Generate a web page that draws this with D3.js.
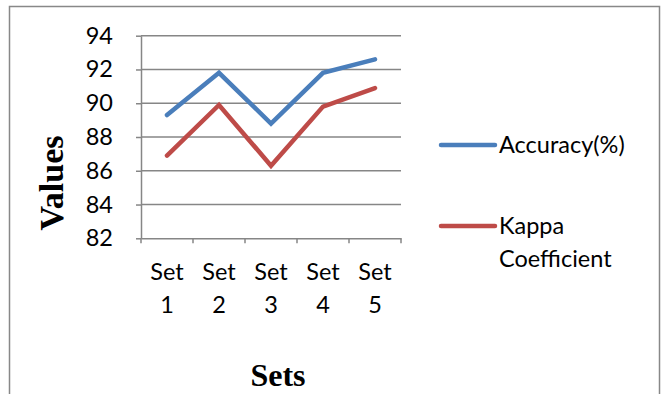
<!DOCTYPE html>
<html><head><meta charset="utf-8">
<script src="https://cdn.jsdelivr.net/npm/d3@7/dist/d3.min.js"></script>
<style>html,body{margin:0;padding:0;background:#fff;}</style>
</head><body>
<svg id="chart" width="671" height="394"></svg>
<script>
const categories = ["Set 1", "Set 2", "Set 3", "Set 4", "Set 5"];
const accuracy = [89.3, 91.8, 88.8, 91.8, 92.6];
const kappa = [86.9, 89.9, 86.3, 89.8, 90.9];
const seriesNames = ["Accuracy(%)", "Kappa Coefficient"];
const yTicks = [82, 84, 86, 88, 90, 92, 94];

(function () {
const svg = d3.select("#chart");
const font = "Lato, 'Open Sans', sans-serif";
const fs = 23.5;
const pLeft = 141, pRight = 401, pTop = 35.7, pBottom = 238.3;

// outer border
svg.append("rect").attr("x", 9.5).attr("y", 6.5).attr("width", 650).attr("height", 400)
  .attr("fill", "none").attr("stroke", "#888").attr("stroke-width", 1.5);

const x = d3.scaleBand().domain(categories).range([pLeft, pRight]).paddingInner(0).paddingOuter(0);
const y = d3.scaleLinear().domain([82, 94]).range([pBottom, pTop]);

// gridlines
svg.append("g").selectAll("line").data(yTicks.filter(d => d !== 82)).join("line")
  .attr("x1", pLeft).attr("x2", pRight).attr("y1", d => y(d)).attr("y2", d => y(d))
  .attr("stroke", "#868686").attr("stroke-width", 1.5);

// y axis
const yAxis = svg.append("g").attr("transform", `translate(${pLeft},0)`)
  .call(d3.axisLeft(y).tickValues(yTicks).tickSize(5).tickPadding(23).tickSizeOuter(0));
yAxis.select(".domain").attr("stroke", "#868686").attr("stroke-width", 1.5);
yAxis.selectAll(".tick line").attr("stroke", "#868686").attr("stroke-width", 1.5);
yAxis.selectAll("text").attr("font-family", font).attr("font-size", fs).attr("fill", "#000");

// x axis
const xAxis = svg.append("g").attr("transform", `translate(0,${pBottom})`)
  .call(d3.axisBottom(x).tickSize(0).tickFormat(""));
xAxis.select(".domain").attr("stroke", "#868686").attr("stroke-width", 1.5);
const bounds = categories.map(c => x(c)).concat([x(categories[categories.length-1]) + x.bandwidth()]);
svg.append("g").selectAll("line").data(bounds).join("line")
  .attr("x1", d => d).attr("x2", d => d).attr("y1", pBottom).attr("y2", pBottom + 5)
  .attr("stroke", "#868686").attr("stroke-width", 1.5);

// x labels (two lines)
const xl = svg.append("g").selectAll("text").data(categories).join("text")
  .attr("text-anchor", "middle").attr("font-family", font).attr("font-size", fs).attr("fill", "#000");
xl.append("tspan").attr("x", d => x(d) + x.bandwidth() / 2).attr("y", 280).text(d => d.split(" ")[0]);
xl.append("tspan").attr("x", d => x(d) + x.bandwidth() / 2).attr("y", 313).text(d => d.split(" ")[1]);

// lines
const line = d3.line().x((d, i) => x(categories[i]) + x.bandwidth() / 2).y(d => y(d));
const colors = ["#4a7ebb", "#be4b48"];
[accuracy, kappa].forEach((s, k) => {
  svg.append("path").datum(s).attr("d", line).attr("fill", "none")
    .attr("stroke", colors[k]).attr("stroke-width", 4.5)
    .attr("stroke-linecap", "round").attr("stroke-linejoin", "miter");
});

// axis titles
const serif = "'Liberation Serif', 'Times New Roman', serif";
svg.append("text").attr("x", 278).attr("y", 386).attr("text-anchor", "middle")
  .attr("font-family", serif).attr("font-weight", "bold").attr("font-size", 32).text("Sets");
svg.append("text").attr("transform", "translate(63,183) rotate(-90)").attr("text-anchor", "middle")
  .attr("font-family", serif).attr("font-weight", "bold").attr("font-size", 34).text("Values");

// legend
const legY = [145, 226];
seriesNames.forEach((n, k) => {
  svg.append("line").attr("x1", 441).attr("x2", 495).attr("y1", legY[k]).attr("y2", legY[k])
    .attr("stroke", colors[k]).attr("stroke-width", 4.5).attr("stroke-linecap", "round");
});
svg.append("text").attr("x", 499).attr("y", 153).attr("font-family", font).attr("font-size", fs).text(seriesNames[0]);
const kt = svg.append("text").attr("font-family", font).attr("font-size", fs);
kt.append("tspan").attr("x", 499).attr("y", 234).text(seriesNames[1].split(" ")[0]);
kt.append("tspan").attr("x", 499).attr("y", 266.5).text(seriesNames[1].split(" ")[1]);
})();
</script>
</body></html>
